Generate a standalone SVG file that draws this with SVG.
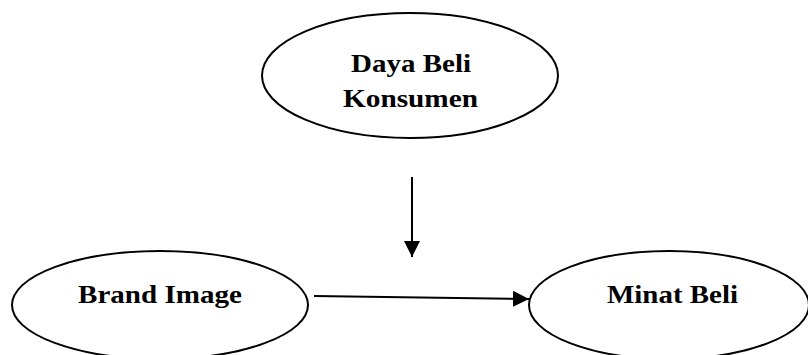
<svg xmlns="http://www.w3.org/2000/svg" width="808" height="355" viewBox="0 0 808 355">
<style>
.n{fill:#fff;stroke:#000;stroke-width:2}
.t{font-family:"Liberation Serif","Times New Roman",serif;font-weight:bold;font-size:26px;fill:#000;text-anchor:middle}
.c{stroke:#000;stroke-width:2;fill:none}
</style>
<defs>
<marker id="ah" markerWidth="16" markerHeight="16" viewBox="0 0 16 16" refX="16" refY="8" orient="auto" markerUnits="userSpaceOnUse">
<path d="M0,0 L16,8 L0,16 Z" fill="#000"/>
</marker>
</defs>
<g id="daya-beli">
<ellipse class="n" cx="410" cy="75.5" rx="148" ry="62.5"/>
<text class="t" x="411" y="72" textLength="120" lengthAdjust="spacingAndGlyphs">Daya Beli</text>
<text class="t" x="410.5" y="107" textLength="135" lengthAdjust="spacingAndGlyphs">Konsumen</text>
</g>
<g id="brand-image">
<ellipse class="n" cx="160" cy="305" rx="148" ry="54"/>
<text class="t" x="160" y="302.5" textLength="164" lengthAdjust="spacingAndGlyphs">Brand Image</text>
</g>
<g id="minat-beli">
<ellipse class="n" cx="669" cy="305" rx="140" ry="54"/>
<text class="t" x="672.5" y="303" textLength="131" lengthAdjust="spacingAndGlyphs">Minat Beli</text>
</g>
<g id="connectors">
<line class="c" x1="412" y1="177" x2="412" y2="257" marker-end="url(#ah)"/>
<line class="c" x1="314" y1="296" x2="529" y2="299" marker-end="url(#ah)"/>
</g>
</svg>
